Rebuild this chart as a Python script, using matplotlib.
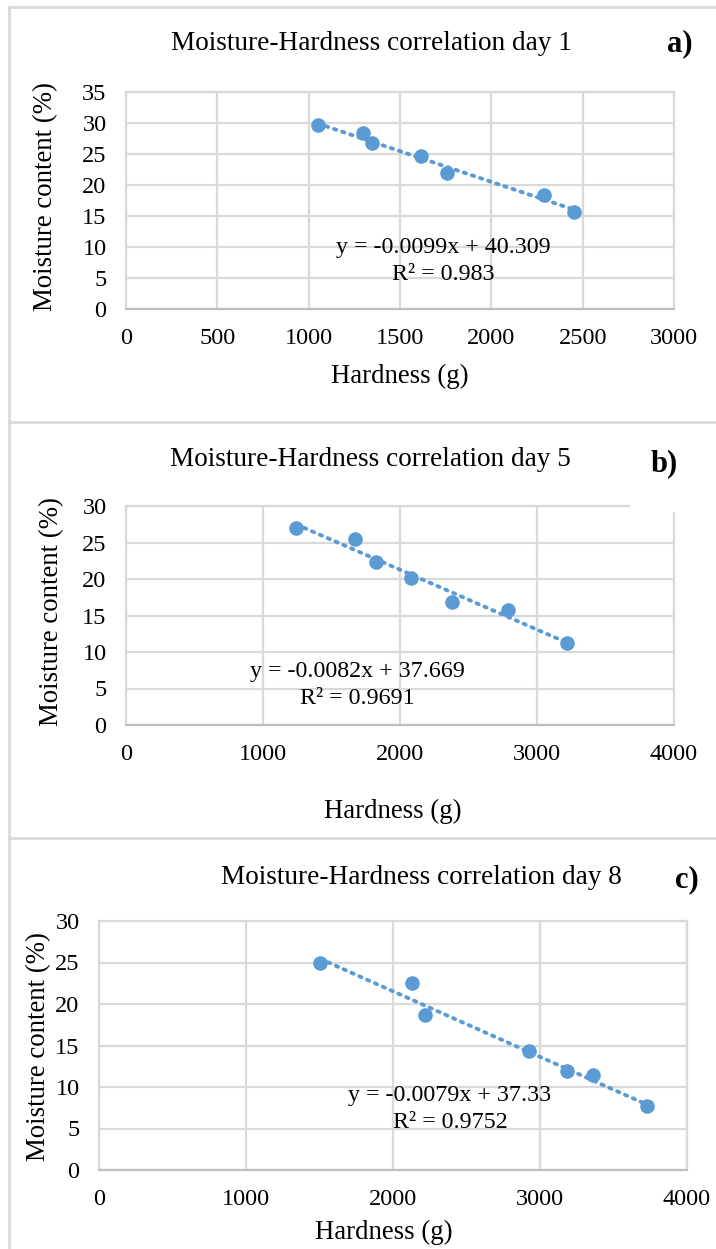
import matplotlib
matplotlib.use("Agg")
import matplotlib.pyplot as plt
from matplotlib.patches import Rectangle
from matplotlib.lines import Line2D
import numpy as np

plt.rcParams['font.family'] = ['Liberation Serif', 'DejaVu Serif']

# ---- data ----
hard_day1 = [1050, 1300, 1345, 1615, 1760, 2288, 2453]
moist_day1 = [29.6, 28.4, 26.7, 24.7, 21.9, 18.4, 15.7]
hard_day5 = [1243, 1673, 1823, 2083, 2380, 2790, 3220]
moist_day5 = [27.0, 25.5, 22.3, 20.1, 16.8, 15.7, 11.2]
hard_day8 = [1505, 2128, 2215, 2926, 3183, 3360, 3729]
moist_day8 = [25.0, 22.5, 18.65, 14.3, 11.9, 11.5, 7.74]

titles = ["Moisture-Hardness correlation day 1",
          "Moisture-Hardness correlation day 5",
          "Moisture-Hardness correlation day 8"]
panel_tags = ["a)", "b)", "c)"]
eq_texts = ["y = -0.0099x + 40.309", "y = -0.0082x + 37.669", "y = -0.0079x + 37.33"]
r2_texts = ["R² = 0.983", "R² = 0.9691", "R² = 0.9752"]
slopes = [-0.0099, -0.0082, -0.0079]
intercepts = [40.309, 37.669, 37.33]
xticks_list = [[0, 500, 1000, 1500, 2000, 2500, 3000], [0, 1000, 2000, 3000, 4000], [0, 1000, 2000, 3000, 4000]]
yticks_list = [[0, 5, 10, 15, 20, 25, 30, 35], [0, 5, 10, 15, 20, 25, 30], [0, 5, 10, 15, 20, 25, 30]]
xlabel = "Hardness (g)"
ylabel = "Moisture content (%)"

W, H = 716, 1249
fig = plt.figure(figsize=(W / 100, H / 100), dpi=100)
fig.patch.set_facecolor("white")

def fx(px):
    return px / W

def fy(py):
    return 1 - py / H

BLUE = "#5B9BD5"
GRID = "#D9D9D9"

# axes boxes in pixels: left, top, right, bottom
boxes = [(126, 92, 674, 309), (126, 506, 674, 725), (99, 921, 687, 1170)]
data = [(hard_day1, moist_day1), (hard_day5, moist_day5), (hard_day8, moist_day8)]
title_pos = [(371, 44), (370, 460), (421, 877)]
tag_pos = [(680, 44), (664, 464), (687, 880)]
xlabel_pos = [(400, 376), (393, 811), (384, 1232)]
ylabel_pos = [(46, 197), (52, 612), (39, 1047)]
eq_pos = [(443, 247), (357, 672), (450, 1095)]
r2_pos = [(443, 274), (357, 699), (450, 1122)]

for i in range(3):
    l, t, r, b = boxes[i]
    ax = fig.add_axes([fx(l), fy(b), fx(r - l), (b - t) / H])
    xs, ys = data[i]
    xt, yt = xticks_list[i], yticks_list[i]
    ax.set_xlim(xt[0], xt[-1])
    ax.set_ylim(yt[0], yt[-1])
    ax.set_xticks(xt)
    ax.set_yticks(yt)
    ax.grid(True, color=GRID, linewidth=1.6)
    ax.set_axisbelow(True)
    for s in ax.spines.values():
        s.set_color(GRID)
        s.set_linewidth(1.6)
    ax.spines['bottom'].set_color("#BFBFBF")
    ax.tick_params(length=0, labelsize=17.5, pad=14)
    # trendline
    xl = np.array([min(xs), max(xs)])
    ax.plot(xl, slopes[i] * xl + intercepts[i], color=BLUE, linestyle=(0, (0.6, 1.6)),
            linewidth=2.8, dash_capstyle='round', zorder=2)
    ax.plot(xs, ys, 'o', color=BLUE, markersize=10.5, markeredgewidth=0, zorder=3)

    fig.text(fx(title_pos[i][0]), fy(title_pos[i][1]), titles[i], ha='center', va='center', fontsize=19.6)
    fig.text(fx(xlabel_pos[i][0]), fy(xlabel_pos[i][1]), xlabel, ha='center', va='center', fontsize=19.3)
    fig.text(fx(ylabel_pos[i][0]), fy(ylabel_pos[i][1]), ylabel, ha='center', va='center', fontsize=19.3,
             rotation=90)
    fig.text(fx(eq_pos[i][0]), fy(eq_pos[i][1]), eq_texts[i], ha='center', va='center', fontsize=17.3)
    fig.text(fx(r2_pos[i][0]), fy(r2_pos[i][1]), r2_texts[i], ha='center', va='center', fontsize=17.3)

# white box behind b) label
fig.add_artist(Rectangle((fx(630), fy(512)), fx(80), (512 - 430) / H, facecolor='white',
                         edgecolor='none', transform=fig.transFigure, zorder=5))
for i in range(3):
    fig.text(fx(tag_pos[i][0]), fy(tag_pos[i][1]), panel_tags[i], ha='center', va='center',
             fontsize=22, fontweight='bold', zorder=6)

# panel frame lines
for yy in [7, 422, 838]:
    fig.add_artist(Line2D([fx(9), 1.0], [fy(yy), fy(yy)], color=GRID, linewidth=2,
                          transform=fig.transFigure))
fig.add_artist(Line2D([fx(9), fx(9)], [fy(7), 0.0], color=GRID, linewidth=2,
                      transform=fig.transFigure))

fig.savefig("out.png", dpi=100)
